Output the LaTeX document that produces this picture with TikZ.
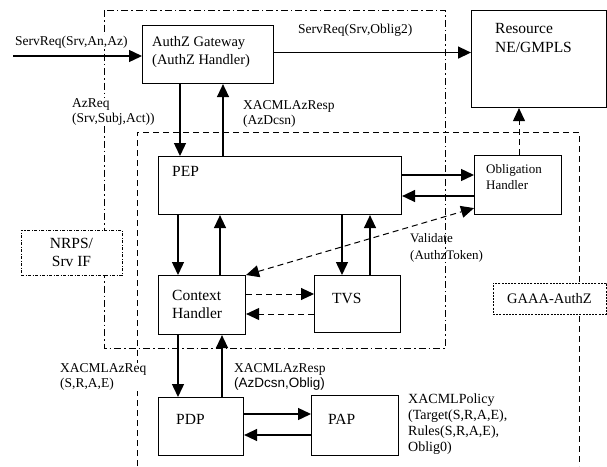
\documentclass[tikz,border=0pt]{standalone}
\usepackage{fontspec}
\setmainfont{Liberation Serif}
\newfontfamily\arialfont{Liberation Sans}
\usetikzlibrary{arrows.meta}

\begin{document}
\begin{tikzpicture}[x=1pt,y=-1pt,
  box/.style={draw,line width=1.1pt,anchor=north west,inner sep=0pt},
  txt/.style={anchor=west,align=left,inner sep=0pt,font=\fontsize{15.5}{18}\selectfont},
  lbl/.style={anchor=west,align=left,inner sep=1pt,font=\fontsize{13.5}{15}\selectfont},
  arr/.style={line width=1.4pt,-{Triangle[length=13pt,width=12pt]}},
  darr/.style={arr,line width=1pt,dash pattern=on 6pt off 4pt}]
\tikzstyle{dashdot frame} = [line width=1pt,dash pattern=on 7pt off 3pt on 1.5pt off 3pt]
\tikzstyle{dash frame} = [line width=1pt,dash pattern=on 6pt off 4pt]
\useasboundingbox (0,0) rectangle (607,466);

% Frames
\draw[dashdot frame] (104,10) rectangle (445,348);
\draw[dash frame] (137,466) |- (579,132) -- (579,466);
\node[draw,fill=white,line width=0.8pt,dash pattern=on 3pt off 1.5pt on 1pt off 1.5pt,
  minimum width=101pt,minimum height=45pt,align=center,
  font=\fontsize{15.5}{18}\selectfont] (nrps) at (71.5,252.5) {NRPS/\\Srv IF};
\node[draw,fill=white,line width=0.8pt,dash pattern=on 2pt off 1.2pt,
  minimum width=113pt,minimum height=31pt,
  font=\fontsize{14.5}{17}\selectfont] (gaaa) at (549.5,298.5) {GAAA-AuthZ};

% Boxes
\node[box,minimum width=131pt,minimum height=58pt] (gw) at (142,25) {};
\node[box,minimum width=135pt,minimum height=97pt] (res) at (471,10) {};
\node[box,minimum width=243pt,minimum height=58pt] (pep) at (158,156) {};
\node[box,minimum width=87pt,minimum height=59pt] (oh) at (474,155) {};
\node[box,minimum width=87pt,minimum height=59pt] (ch) at (158,275) {};
\node[box,minimum width=86pt,minimum height=57pt] (tvs) at (314,275) {};
\node[box,minimum width=85pt,minimum height=58pt] (pdp) at (158,397) {};
\node[box,minimum width=87pt,minimum height=60pt] (pap) at (311,395) {};

\node[txt,font=\fontsize{14.5}{18}\selectfont] (gwtxt) at (152,52) {AuthZ Gateway\\(AuthZ Handler)};
\node[txt,font=\fontsize{15.5}{19}\selectfont] (restxt) at (495,38) {Resource\\NE/GMPLS};
\node[txt] (peptxt) at (172,171) {PEP};
\node[txt,font=\fontsize{13}{16}\selectfont] (ohtxt) at (486,177) {Obligation\\Handler};
\node[txt] (chtxt) at (172,304) {Context\\Handler};
\node[txt] (tvstxt) at (332,298) {TVS};
\node[txt] (pdptxt) at (176,419) {PDP};
\node[txt] (paptxt) at (328,419) {PAP};

% Requests and responses
\coordinate (srvin) at (13,56);
\draw[arr] (srvin) -- (srvin -| gw.west);
\draw[arr] ([yshift=2]gw.east) -- ([yshift=2]gw.east -| res.west);
\draw[arr] ([xshift=38]gw.south west) -- ([xshift=22]pep.north west);
\draw[arr] ([xshift=65]pep.north west) -- ([xshift=81]gw.south west);
\draw[arr] ([yshift=-19]pep.north east) -- ([yshift=-20]oh.north west);
\draw[arr] ([yshift=-41]oh.north west) -- ([yshift=-40]pep.north east);
\draw[darr] ([xshift=45]oh.north west) -- ([xshift=48]res.south west);
\draw[arr] ([xshift=20]pep.south west) -- ([xshift=20]ch.north west);
\draw[arr] ([xshift=62]ch.north west) -- ([xshift=62]pep.south west);
\draw[arr] ([xshift=184]pep.south west) -- ([xshift=28]tvs.north west);
\draw[arr] ([xshift=56]tvs.north west) -- ([xshift=212]pep.south west);
\draw[darr] ([yshift=-19]ch.north east) -- ([yshift=-19]tvs.north west);
\draw[darr] ([yshift=-39]tvs.north west) -- ([yshift=-39]ch.north east);
\draw[darr,{Triangle[length=13pt,width=12pt]}-{Triangle[length=13pt,width=12pt]}]
  (ch.north east) -- ([yshift=7]oh.south west);
\draw[arr] ([xshift=20]ch.south west) -- ([xshift=20]pdp.north west);
\draw[arr] ([xshift=64]pdp.north west) -- ([xshift=64]ch.south west);
\draw[arr] ([yshift=-17]pdp.north east) -- ([yshift=-19]pap.north west);
\draw[arr] ([yshift=-40]pap.north west) -- ([yshift=-38]pdp.north east);

% Labels
\node[lbl,fill=white] (inlbl) at (14,42) {ServReq(Srv,An,Az)};
\node[lbl] (outlbl) at (297,30) {ServReq(Srv,Oblig2)};
\node[lbl,fill=white] (azreq) at (71,112) {AzReq\\(Srv,Subj,Act))};
\node[lbl] (azresp) at (242,114) {XACMLAzResp\\(AzDcsn)};
\node[lbl,font=\fontsize{13}{17}\selectfont] (valid) at (409,247.5) {Validate\\(AuthzToken)};
\node[lbl,fill=white] (xreq) at (59,377) {XACMLAzReq\\(S,R,A,E)};
\node[lbl] (xresp) at (233,377) {XACMLAzResp\\{\arialfont (AzDcsn,Oblig)}};
\node[lbl,font=\fontsize{14}{16}\selectfont] (policy) at (407,424) {XACMLPolicy\\(Target(S,R,A,E),\\Rules(S,R,A,E),\\Oblig0)};

\end{tikzpicture}
\end{document}
